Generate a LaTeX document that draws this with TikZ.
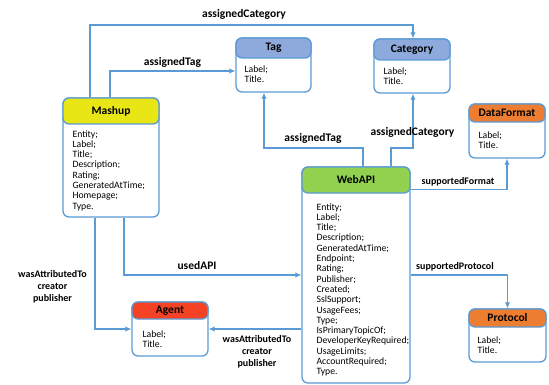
\documentclass[tikz,border=0pt]{standalone}
\usepackage{fontspec}
\setmainfont{Carlito}
\usetikzlibrary{arrows.meta,positioning,calc}
\definecolor{linkblue}{RGB}{91,155,213}
\definecolor{mashyellow}{RGB}{232,230,20}
\definecolor{apigreen}{RGB}{146,208,80}
\definecolor{agentred}{RGB}{244,67,36}
\definecolor{fmtorange}{RGB}{237,125,49}
\definecolor{taglilac}{RGB}{142,169,219}

\begin{document}
\begin{tikzpicture}[x=1pt, y=-1pt,
    box/.style={rectangle, rounded corners=6pt, draw=linkblue, line width=1.3pt, fill=white, inner sep=0pt},
    head/.style={rectangle, rounded corners=6pt, draw=linkblue, line width=1.3pt, inner sep=0pt,
                 anchor=north, font=\fontsize{11.5}{12}\selectfont\bfseries},
    attrs/.style={anchor=north west, inner sep=0pt, align=left, font=\fontsize{9.7}{10.3}\selectfont},
    conn/.style={draw=linkblue, line width=1.2pt, -{Latex[length=6pt,width=5.5pt]}},
    rel/.style={font=\fontsize{11.5}{12}\selectfont\bfseries},
    relsmall/.style={font=\fontsize{10}{12}\selectfont\bfseries, align=center}]
    \useasboundingbox (0,0) rectangle (549,385);

    % entity boxes
    \node[box, minimum width=96pt, minimum height=119pt] (mashup) at (111,157.5) {};
    \node[head, fill=mashyellow, minimum width=96pt, minimum height=26pt] (mashuphead) at (mashup.north) {Mashup};
    \node[attrs] (mashupattrs) at ([xshift=10pt,yshift=-5.5pt]mashuphead.south west)
        {Entity;\\Label;\\Title;\\Description;\\Rating;\\GeneratedAtTime;\\Homepage;\\Type.};

    \node[box, minimum width=75pt, minimum height=54pt] (tag) at (273.5,65) {};
    \node[head, fill=taglilac, minimum width=75pt, minimum height=20pt] (taghead) at (tag.north) {Tag};
    \node[attrs] (tagattrs) at ([xshift=9pt,yshift=-6.5pt]taghead.south west) {Label;\\Title.};

    \node[box, minimum width=76pt, minimum height=54pt] (category) at (412,66) {};
    \node[head, fill=taglilac, minimum width=76pt, minimum height=21pt] (categoryhead) at (category.north) {Category};
    \node[attrs] (categoryattrs) at ([xshift=10pt,yshift=-6.5pt]categoryhead.south west) {Label;\\Title.};

    \node[box, minimum width=76pt, minimum height=54pt] (dataformat) at (507,131) {};
    \node[head, fill=fmtorange, minimum width=76pt, minimum height=18pt] (dataformathead) at (dataformat.north) {DataFormat};
    \node[attrs] (dataformatattrs) at ([xshift=10pt,yshift=-9pt]dataformathead.south west) {Label;\\Title.};

    \node[box, minimum width=108pt, minimum height=216pt] (webapi) at (356,275) {};
    \node[head, fill=apigreen, minimum width=108pt, minimum height=26pt] (webapihead) at (webapi.north) {WebAPI};
    \node[attrs] (webapiattrs) at ([xshift=15pt,yshift=-9.5pt]webapihead.south west)
        {Entity;\\Label;\\Title;\\Description;\\GeneratedAtTime;\\Endpoint;\\Rating;\\Publisher;\\Created;\\SslSupport;\\UsageFees;\\Type;\\IsPrimaryTopicOf;\\DeveloperKeyRequired;\\UsageLimits;\\AccountRequired;\\Type.};

    \node[box, minimum width=77pt, minimum height=53pt] (protocol) at (507.5,335.5) {};
    \node[head, fill=fmtorange, minimum width=77pt, minimum height=18pt] (protocolhead) at (protocol.north) {Protocol};
    \node[attrs] (protocolattrs) at ([xshift=9pt,yshift=-8.5pt]protocolhead.south west) {Label;\\Title.};

    \node[box, minimum width=76pt, minimum height=54pt] (agent) at (170,329) {};
    \node[head, fill=agentred, minimum width=76pt, minimum height=17pt] (agenthead) at (agent.north) {Agent};
    \node[attrs] (agentattrs) at ([xshift=11pt,yshift=-10.5pt]agenthead.south west) {Label;\\Title.};

    % connectors
    \coordinate (topbend) at (413,25);
    \coordinate (tagbend) at (264,148);
    \coordinate (catbend) at (413,148);
    \draw[conn] ([xshift=-21pt]mashup.north) |- (topbend) -- (category.north -| topbend);
    \draw[conn] ([xshift=-1pt]mashup.north) |- ([yshift=-6pt]tag.west);
    \draw[conn] ([xshift=7pt]webapi.north) |- (tagbend) -- (tag.south -| tagbend);
    \draw[conn] ([xshift=35pt]webapi.north) |- (catbend) -- (category.south -| catbend);
    \draw[conn] ([yshift=-23pt]webapi.north east) -| (dataformat.south);
    \draw[conn] (webapi.east) -| (protocol.north);
    \draw[conn] ([xshift=13pt]mashup.south) |- (webapi.west);
    \draw[conn] ([xshift=-16pt]mashup.south) |- (agent.west);
    \draw[conn] (webapi.west |- agent.east) -- (agent.east);

    % connector labels
    \node[rel] (toplabel) at (244,14) {assignedCategory};
    \node[rel] (mtaglabel) at (172.5,62) {assignedTag};
    \node[rel] (wtaglabel) at (313,138) {assignedTag};
    \node[rel] (wcatlabel) at (412.5,132) {assignedCategory};
    \node[relsmall] (fmtlabel) at (458,182) {supportedFormat};
    \node[relsmall] (protlabel) at (455,267) {supportedProtocol};
    \node[rel] (usedlabel) at (197,266) {usedAPI};
    \node[relsmall] (magentlabel) at (52.5,287) {wasAttributedTo\\creator\\publisher};
    \node[relsmall] (wagentlabel) at (257,352) {wasAttributedTo\\creator\\publisher};
\end{tikzpicture}
\end{document}
